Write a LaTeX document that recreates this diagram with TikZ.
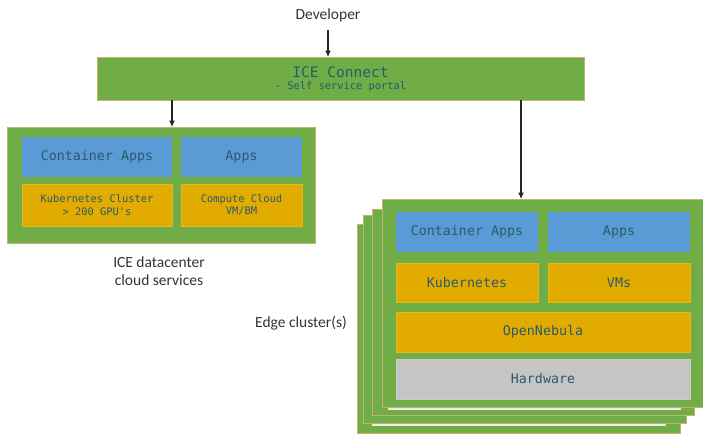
\documentclass[tikz,border=0pt]{standalone}
\usepackage{fontspec}
\setmainfont{Carlito}
\newfontfamily\monof{DejaVu Sans Mono}
\usetikzlibrary{arrows.meta}
\definecolor{cgreen}{HTML}{70AD47}
\definecolor{cblue}{HTML}{5B9BD5}
\definecolor{corange}{HTML}{E2AB00}
\definecolor{cgray}{HTML}{C6C5C5}
\definecolor{ctan}{HTML}{C8B271}
\definecolor{ctext}{HTML}{2A5A6C}
\definecolor{clabel}{HTML}{333333}
\tikzset{
  box/.style={rectangle, inner sep=0pt, outer sep=0pt, anchor=center},
  greenbox/.style={box, fill=cgreen, draw=ctan, line width=0.8pt},
  bluebox/.style={box, fill=cblue},
  orangebox/.style={box, fill=corange, draw=corange!85!white, line width=0.6pt},
  graybox/.style={box, fill=cgray, draw=cgray!90!white, line width=0.6pt},
  monobig/.style={text=ctext, font=\monof\fontsize{13.3}{15}\selectfont},
  monosmall/.style={text=ctext, font=\monof\fontsize{10.4}{12.5}\selectfont, align=center},
  monotitle/.style={text=ctext, font=\monof\fontsize{14.5}{16}\selectfont},
  sanslabel/.style={text=clabel, font=\fontsize{15.5}{18}\selectfont, align=center},
  arr/.style={line width=1.1pt, draw=black!85, -{Latex[length=6.5pt,width=6pt]}},
  strip/.style={box, fill=gray!15, draw=none}
}
\begin{document}
\begin{tikzpicture}[x=1pt,y=-1pt]
\useasboundingbox (0,0) rectangle (703,434);

% Developer
\node[sanslabel] (dev) at (328,15) {Developer};

% ICE Connect bar
\node[greenbox, minimum width=487, minimum height=43] (conn) at (340.5,78.5) {};
\node[monotitle] (connT) at (340.5,72) {ICE Connect};
\node[monosmall] (connS) at (340.5,87) {- Self service portal};

% Left datacenter box
\node[greenbox, minimum width=308, minimum height=116] (dc) at (161,185) {};
\node[bluebox, minimum width=150, minimum height=40, monobig] (dcca) at (97,157) {Container Apps};
\node[bluebox, minimum width=121, minimum height=40, monobig] (dcapps) at (241.5,157) {Apps};
\node[orangebox, minimum width=150, minimum height=42, monosmall] (dck8s) at (97,205) {Kubernetes Cluster\\> 200 GPU's};
\node[orangebox, minimum width=121, minimum height=42, monosmall] (dccc) at (241.5,205) {Compute Cloud\\VM/BM};
\node[sanslabel] (dclabel) at (159,271) {ICE datacenter\\cloud services};

% Edge cluster stack
\node[greenbox, minimum width=323, minimum height=209] (e4) at (518.5,328.5) {};
\node[strip, minimum width=294, minimum height=2.2] (s4) at (519,424.5) {};
\node[greenbox, minimum width=323, minimum height=208] (e3) at (524.5,319) {};
\node[greenbox, minimum width=322, minimum height=206] (e2) at (533,312) {};
\node[strip, minimum width=293, minimum height=2.2] (s2) at (534.5,408.5) {};
\node[greenbox, minimum width=321, minimum height=208] (e1) at (542.5,303) {};
\node[bluebox, minimum width=142, minimum height=40, monobig] (eca) at (467,232) {Container Apps};
\node[bluebox, minimum width=142, minimum height=40, monobig] (eapps) at (619,232) {Apps};
\node[orangebox, minimum width=142, minimum height=39, monobig] (ek8s) at (467,282.5) {Kubernetes};
\node[orangebox, minimum width=142, minimum height=39, monobig] (evms) at (619,282.5) {VMs};
\node[orangebox, minimum width=294, minimum height=40, monobig] (eon) at (543,332) {OpenNebula};
\node[graybox, minimum width=294, minimum height=40, monobig] (ehw) at (543,379) {Hardware};
\node[sanslabel] (elabel) at (301,323) {Edge cluster(s)};

% Connectors
\coordinate (ra) at (521,0);
\draw[arr] ([yshift=-5pt]dev.south) -- (dev.south |- conn.north);
\draw[arr] (conn.south -| dcca.east) -- (dc.north -| dcca.east);
\draw[arr] (conn.south -| ra) -- (e1.north -| ra);
\end{tikzpicture}
\end{document}
